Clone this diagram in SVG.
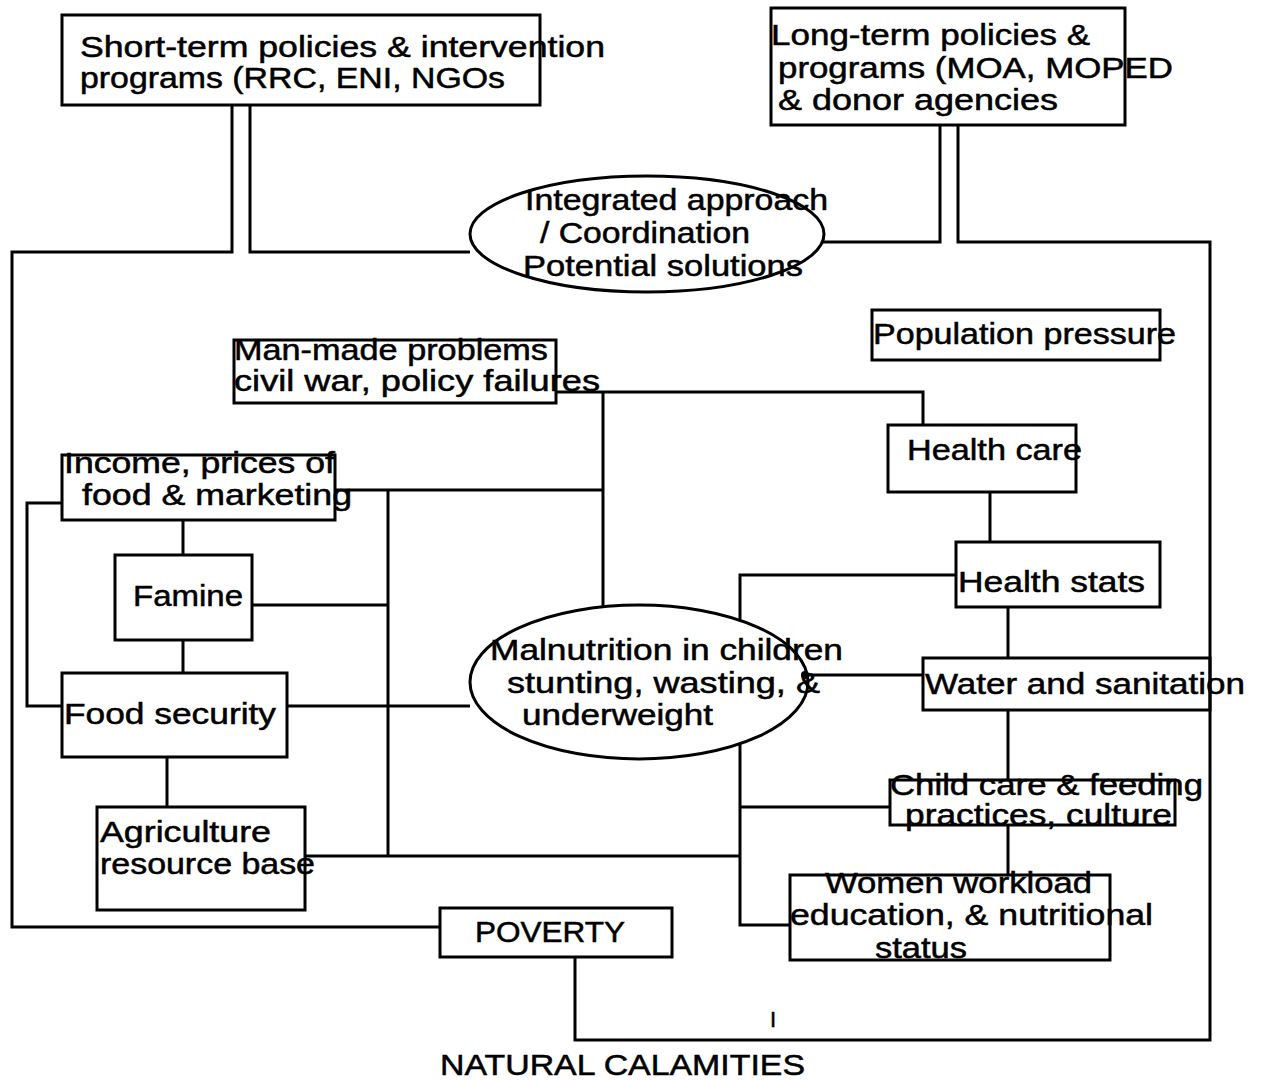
<svg xmlns="http://www.w3.org/2000/svg" width="1261" height="1080" viewBox="0 0 1261 1080">
<style>
.b{fill:none;stroke:#000;stroke-width:3}
.e{fill:#fff;stroke:#000;stroke-width:3}
.c{fill:none;stroke:#000;stroke-width:3}
text{font-family:"Liberation Sans",Arial,sans-serif;font-size:29px;fill:#000;stroke:#000;stroke-width:0.5}
</style>
<rect width="1261" height="1080" fill="#fff"/>
<g id="connectors">
<polyline class="c" points="232,105 232,252 12,252 12,927 440,927"/>
<polyline class="c" points="250,105 250,252 470,252"/>
<polyline class="c" points="940,125 940,242 822,242"/>
<polyline class="c" points="958,125 958,242 1210,242 1210,1040 575,1040 575,957"/>
<polyline class="c" points="556,392 923,392 923,425"/>
<line class="c" x1="603" y1="392" x2="603" y2="606"/>
<line class="c" x1="990" y1="492" x2="990" y2="542"/>
<polyline class="c" points="956,575 740,575 740,925 790,925"/>
<line class="c" x1="740" y1="807" x2="890" y2="807"/>
<line class="c" x1="1008" y1="607" x2="1008" y2="658"/>
<line class="c" x1="923" y1="675" x2="805" y2="675"/>
<line class="c" x1="1008" y1="710" x2="1008" y2="780"/>
<line class="c" x1="1008" y1="825" x2="1008" y2="875"/>
<line class="c" x1="335" y1="490" x2="603" y2="490"/>
<line class="c" x1="388" y1="490" x2="388" y2="856"/>
<polyline class="c" points="62,503 27,503 27,706 62,706"/>
<line class="c" x1="183" y1="520" x2="183" y2="555"/>
<line class="c" x1="252" y1="605" x2="388" y2="605"/>
<line class="c" x1="183" y1="640" x2="183" y2="673"/>
<line class="c" x1="287" y1="706" x2="470" y2="706"/>
<line class="c" x1="167" y1="757" x2="167" y2="807"/>
<line class="c" x1="305" y1="856" x2="740" y2="856"/>
</g>
<g id="short-term"><rect class="b" x="62" y="15" width="478" height="90"/><text x="80" y="57" textLength="525" lengthAdjust="spacingAndGlyphs">Short-term policies &amp; intervention</text><text x="80" y="88" textLength="425" lengthAdjust="spacingAndGlyphs">programs (RRC, ENI, NGOs</text></g>
<g id="long-term"><rect class="b" x="771" y="8" width="354" height="117"/><text x="771" y="45" textLength="319" lengthAdjust="spacingAndGlyphs">Long-term policies &amp;</text><text x="778" y="78" textLength="395" lengthAdjust="spacingAndGlyphs">programs (MOA, MOPED</text><text x="778" y="110" textLength="280" lengthAdjust="spacingAndGlyphs">&amp; donor agencies</text></g>
<g id="integrated"><ellipse class="e" cx="647" cy="234" rx="177" ry="58"/><text x="525" y="210" textLength="303" lengthAdjust="spacingAndGlyphs">Integrated approach</text><text x="540" y="243" textLength="210" lengthAdjust="spacingAndGlyphs">/ Coordination</text><text x="523" y="276" textLength="280" lengthAdjust="spacingAndGlyphs">Potential solutions</text></g>
<g id="population"><rect class="b" x="872" y="310" width="288" height="50"/><text x="873" y="344" textLength="303" lengthAdjust="spacingAndGlyphs">Population pressure</text></g>
<g id="manmade"><rect class="b" x="234" y="340" width="322" height="63"/><text x="234" y="360" textLength="314" lengthAdjust="spacingAndGlyphs">Man-made problems</text><text x="234" y="391" textLength="366" lengthAdjust="spacingAndGlyphs">civil war, policy failures</text></g>
<g id="healthcare"><rect class="b" x="888" y="425" width="188" height="67"/><text x="907" y="460" textLength="175" lengthAdjust="spacingAndGlyphs">Health care</text></g>
<g id="income"><rect class="b" x="62" y="455" width="273" height="65"/><text x="64" y="473" textLength="271" lengthAdjust="spacingAndGlyphs">Income, prices of</text><text x="82" y="505" textLength="270" lengthAdjust="spacingAndGlyphs">food &amp; marketing</text></g>
<g id="healthstats"><rect class="b" x="956" y="542" width="204" height="65"/><text x="958" y="592" textLength="187" lengthAdjust="spacingAndGlyphs">Health stats</text></g>
<g id="famine"><rect class="b" x="115" y="555" width="137" height="85"/><text x="133" y="606" textLength="110" lengthAdjust="spacingAndGlyphs">Famine</text></g>
<g id="malnutrition"><ellipse class="e" cx="639" cy="682" rx="169" ry="77"/><circle cx="805" cy="675" r="4" fill="#000"/><text x="490" y="660" textLength="353" lengthAdjust="spacingAndGlyphs">Malnutrition in children</text><text x="507" y="693" textLength="313" lengthAdjust="spacingAndGlyphs">stunting, wasting, &amp;</text><text x="522" y="725" textLength="191" lengthAdjust="spacingAndGlyphs">underweight</text></g>
<g id="water"><rect class="b" x="923" y="658" width="287" height="52"/><text x="925" y="694" textLength="320" lengthAdjust="spacingAndGlyphs">Water and sanitation</text></g>
<g id="foodsecurity"><rect class="b" x="62" y="673" width="225" height="84"/><text x="64" y="724" textLength="212" lengthAdjust="spacingAndGlyphs">Food security</text></g>
<g id="childcare"><rect class="b" x="890" y="780" width="285" height="45"/><text x="890" y="795" textLength="313" lengthAdjust="spacingAndGlyphs">Child care &amp; feeding</text><text x="905" y="825" textLength="267" lengthAdjust="spacingAndGlyphs">practices, culture</text></g>
<g id="agriculture"><rect class="b" x="97" y="807" width="208" height="103"/><text x="100" y="842" textLength="171" lengthAdjust="spacingAndGlyphs">Agriculture</text><text x="100" y="874" textLength="215" lengthAdjust="spacingAndGlyphs">resource base</text></g>
<g id="women"><rect class="b" x="790" y="875" width="320" height="85"/><text x="825" y="893" textLength="267" lengthAdjust="spacingAndGlyphs">Women workload</text><text x="790" y="925" textLength="363" lengthAdjust="spacingAndGlyphs">education, &amp; nutritional</text><text x="875" y="958" textLength="92" lengthAdjust="spacingAndGlyphs">status</text></g>
<g id="poverty"><rect class="b" x="440" y="908" width="232" height="49"/><text x="475" y="942" textLength="150" lengthAdjust="spacingAndGlyphs">POVERTY</text></g>
<text x="770" y="1027" style="font-size:22px">I</text>
<text x="440" y="1075" textLength="365" lengthAdjust="spacingAndGlyphs">NATURAL CALAMITIES</text>
</svg>
